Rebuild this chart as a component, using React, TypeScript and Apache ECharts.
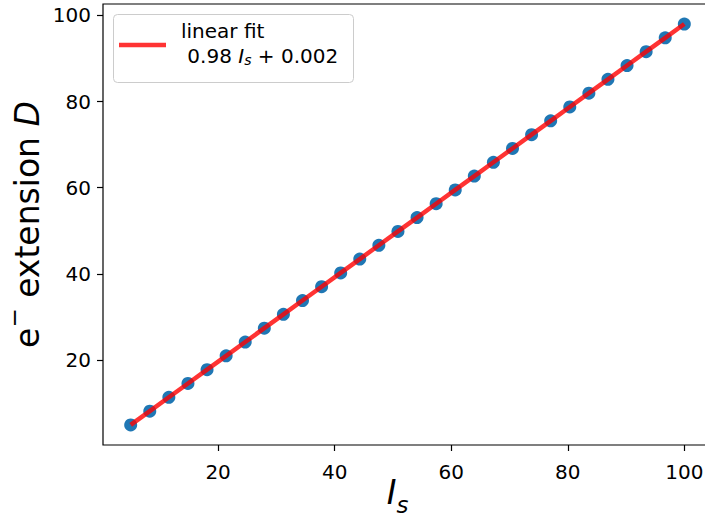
import React, { useEffect, useRef } from "react";
import * as echarts from "echarts";

const xValues = [
  5.0, 8.2759, 11.5517, 14.8276, 18.1034, 21.3793, 24.6552, 27.931, 31.2069,
  34.4828, 37.7586, 41.0345, 44.3103, 47.5862, 50.8621, 54.1379, 57.4138,
  60.6897, 63.9655, 67.2414, 70.5172, 73.7931, 77.069, 80.3448, 83.6207,
  86.8966, 90.1724, 93.4483, 96.7241, 100.0,
];
const yValues = [
  4.9, 8.11, 11.32, 14.53, 17.74, 20.95, 24.16, 27.37, 30.58, 33.79, 37.0,
  40.21, 43.42, 46.63, 49.84, 53.06, 56.27, 59.48, 62.69, 65.9, 69.11, 72.32,
  75.53, 78.74, 81.95, 85.16, 88.37, 91.58, 94.79, 98.0,
];
const fitSlope = 0.98;
const fitIntercept = 0.002;
const xTicks = [20, 40, 60, 80, 100];
const yTicks = [20, 40, 60, 80, 100];

const FONT = "DejaVu Sans";

export default function App() {
  const ref = useRef<HTMLDivElement>(null);
  useEffect(() => {
    if (!ref.current) return;
    const chart = echarts.init(ref.current, undefined, { renderer: "svg" });
    const xMinD = Math.min(...xValues);
    const xMaxD = Math.max(...xValues);
    const yMinD = Math.min(...yValues);
    const yMaxD = Math.max(...yValues);
    const xPad = (xMaxD - xMinD) * 0.05;
    const yPad = (yMaxD - yMinD) * 0.05;
    const pts = xValues.map((x, i) => [x, yValues[i]]);
    const fit = xValues.map((x) => [x, fitSlope * x + fitIntercept]);

    chart.setOption({
      animation: false,
      backgroundColor: "#fff",
      grid: {
        left: 103,
        top: 4,
        width: 609,
        height: 441,
        show: true,
        borderColor: "#000",
        borderWidth: 1.2,
        containLabel: false,
        outerBoundsMode: "none",
      },
      xAxis: {
        type: "value",
        min: xMinD - xPad,
        max: xMaxD + xPad,
        splitLine: { show: false },
        axisLine: { show: false },
        axisTick: {
          show: true,
          length: 6,
          customValues: xTicks,
          lineStyle: { color: "#000", width: 1.2 },
        },
        axisLabel: {
          customValues: xTicks,
          margin: 17,
          color: "#000",
          fontFamily: FONT,
          fontSize: 20,
        },
        name: "{it|I}{sub|s}",
        nameLocation: "middle",
        nameGap: 31,
        nameMoveOverlap: false,
        nameTextStyle: {
          color: "#000",
          fontFamily: FONT,
          rich: {
            it: {
              fontStyle: "italic",
              fontSize: 33,
              lineHeight: 33,
              fontFamily: FONT,
              color: "#000",
            },
            sub: {
              fontStyle: "italic",
              fontSize: 23,
              lineHeight: 18,
              fontFamily: FONT,
              color: "#000",
              padding: [24, 20, 0, 0],
            },
          },
        },
      },
      yAxis: {
        type: "value",
        min: yMinD - yPad,
        max: yMaxD + yPad,
        splitLine: { show: false },
        axisLine: { show: false },
        axisTick: {
          show: true,
          length: 6,
          customValues: yTicks,
          lineStyle: { color: "#000", width: 1.2 },
        },
        axisLabel: {
          customValues: yTicks,
          margin: 12,
          color: "#000",
          fontFamily: FONT,
          fontSize: 20,
        },
        name: "{n|e}{sup|−}{n| extension }{it|D}",
        nameLocation: "middle",
        nameGap: 58,
        nameMoveOverlap: false,
        nameTextStyle: {
          color: "#000",
          fontFamily: FONT,
          rich: {
            n: { fontSize: 33, lineHeight: 36, fontFamily: FONT, color: "#000" },
            sup: {
              fontSize: 23,
              lineHeight: 18,
              fontFamily: FONT,
              color: "#000",
              padding: [0, 0, 26, 0],
            },
            it: {
              fontStyle: "italic",
              fontSize: 33,
              lineHeight: 36,
              fontFamily: FONT,
              color: "#000",
            },
          },
        },
      },
      series: [
        {
          type: "scatter",
          data: pts,
          symbol: "circle",
          symbolSize: 13,
          itemStyle: { color: "#1f77b4", opacity: 1 },
          z: 2,
        },
        {
          type: "line",
          data: fit,
          showSymbol: false,
          symbol: "none",
          lineStyle: { color: "red", opacity: 0.8, width: 4.5 },
          z: 3,
        },
      ],
      graphic: [
        {
          type: "rect",
          shape: { x: 113.5, y: 14.5, width: 240, height: 68, r: 4 },
          style: { fill: "rgba(255,255,255,0.8)", stroke: "#cccccc", lineWidth: 1 },
          z: 10,
        },
        {
          type: "line",
          shape: { x1: 119, y1: 45, x2: 166, y2: 45 },
          style: { stroke: "red", opacity: 0.8, lineWidth: 4.5 },
          z: 11,
        },
        {
          type: "text",
          x: 181,
          y: 18,
          z: 11,
          style: {
            text: "linear fit\n 0.98 {it|I}{sub|s} + 0.002",
            fill: "#000",
            fontFamily: FONT,
            fontSize: 20,
            lineHeight: 25,
            verticalAlign: "top",
            align: "left",
            rich: {
              it: { fontStyle: "italic", fontSize: 20, fontFamily: FONT, lineHeight: 25 },
              sub: {
                fontStyle: "italic",
                fontSize: 14,
                fontFamily: FONT,
                lineHeight: 25,
                padding: [9, 0, 0, 0],
              },
            },
          },
        },
      ],
    });
    return () => chart.dispose();
  }, []);
  return (
    <div
      ref={ref}
      style={{ position: "fixed", left: 0, top: 0, width: 705, height: 518 }}
    />
  );
}
